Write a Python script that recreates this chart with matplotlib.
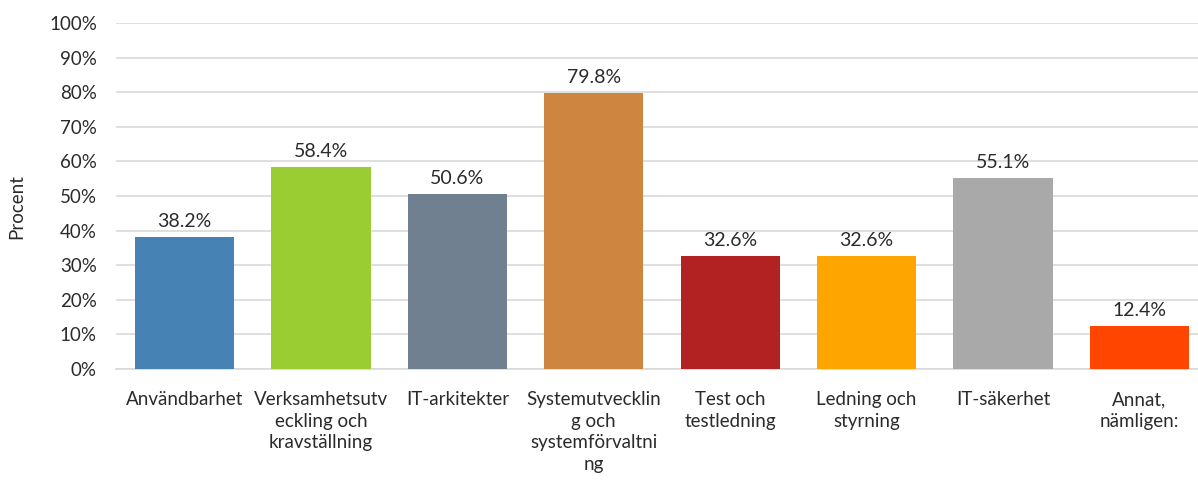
import matplotlib.pyplot as plt

categories = [
    "Användbarhet",
    "Verksamhetsutv\neckling och\nkravställning",
    "IT-arkitekter",
    "Systemutvecklin\ng och\nsystemförvaltni\nng",
    "Test och\ntestledning",
    "Ledning och\nstyrning",
    "IT-säkerhet",
    "Annat,\nnämligen:",
]
values = [38.2, 58.4, 50.6, 79.8, 32.6, 32.6, 55.1, 12.4]
colors = ["#4682B4", "#9ACD32", "#708090", "#CD853F",
          "#B22222", "#FFA500", "#A9A9A9", "#FF4500"]
yticks = list(range(0, 101, 10))

plt.rcParams["font.family"] = ["Lato", "DejaVu Sans"]

fig = plt.figure(figsize=(11.98, 4.84), dpi=100)
# axes runs off the right edge like the cropped source image
ax = fig.add_axes([0.0971, 0.2376, 0.911, 0.715])

x = list(range(len(categories)))
ax.bar(x, values, width=0.727, color=colors, zorder=3)

for xi, v in zip(x, values):
    ax.text(xi, v + 2.0, f"{v:.1f}%", ha="center", va="bottom",
            fontsize=14, color="#2b2b2b")

ax.set_xlim(-0.5, len(categories) - 0.5)
ax.set_ylim(0, 100)
ax.set_yticks(yticks)
ax.set_yticklabels([f"{t}%" for t in yticks], fontsize=13.5, color="#2b2b2b")
ax.set_xticks(x)
ax.set_xticklabels(categories, fontsize=13.5, color="#2b2b2b",
                   linespacing=1.33)
ax.tick_params(axis="both", length=0)
ax.tick_params(axis="x", pad=16)
ax.tick_params(axis="y", pad=14)

ax.grid(axis="y", color="#d9d9d9", linewidth=1.2, zorder=0)
for s in ["top", "right", "left"]:
    ax.spines[s].set_visible(False)
ax.spines["bottom"].set_color("#d9d9d9")
ax.spines["bottom"].set_linewidth(1.2)

ax.set_ylabel("Procent", fontsize=13.5, color="#2b2b2b")
ax.yaxis.set_label_coords(-0.083, 0.47)

fig.savefig("out.png", dpi=100)
